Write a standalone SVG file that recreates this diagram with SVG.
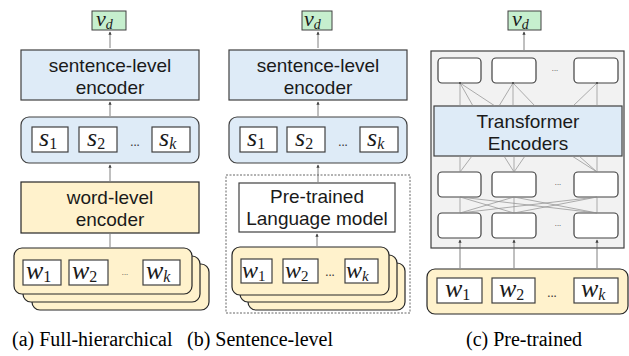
<svg xmlns="http://www.w3.org/2000/svg" width="629" height="356" viewBox="0 0 629 356">
<style>
.enc{fill:#deebf7;stroke:#404040;stroke-width:1.2}
.yel{fill:#fff2cc;stroke:#262626;stroke-width:1.2}
.wht{fill:#fff;stroke:#404040;stroke-width:1.2}
.grn{fill:#c6efce;stroke:#404040;stroke-width:1}
.lbl{font-family:'Liberation Sans',Arial,sans-serif;font-size:19px;fill:#1a1a1a;text-anchor:middle}
.math{font-family:'Liberation Serif','DejaVu Serif','Times New Roman',serif;font-style:italic;font-size:26px;fill:#1a1a1a}
.sub{font-size:16px;font-style:normal}
.subi{font-size:16px}
.dots{font-family:'Open Sans',sans-serif;font-size:12px;fill:#333;text-anchor:middle}
.sdots{font-family:'Open Sans',sans-serif;font-size:8px;fill:#555;text-anchor:middle}
.cap{font-family:'Liberation Serif','DejaVu Serif','Times New Roman',serif;font-size:20px;fill:#000}
.con{stroke:#606060;stroke-width:0.8;fill:none}
.arr{stroke:#606060;stroke-width:0.8;fill:none;marker-end:url(#ah)}
.thin{stroke:#8c8c8c;stroke-width:0.7;fill:none}
</style>
<defs>
<marker id="ah" viewBox="0 0 6 6" refX="5" refY="3" markerWidth="4" markerHeight="4" orient="auto">
<path d="M0,0 L6,3 L0,6 z" fill="#404040"/>
</marker>
</defs>

<!-- Column (a) -->
<g id="a_vd"><rect class="grn" x="92" y="11" width="34" height="19"/><text class="math" x="96" y="26" style="font-size:22px">v<tspan class="subi" dy="3" style="font-size:14px">d</tspan></text></g>
<g id="a_sent_enc"><rect class="enc" x="21" y="50" width="178" height="50"/><text class="lbl" x="110" y="71.5">sentence-level</text><text class="lbl" x="110" y="93.5">encoder</text></g>
<g id="a_sgroup"><rect class="enc" x="21" y="117" width="178" height="46" rx="8"/>
<rect class="wht" x="32" y="127" width="36" height="25"/><text class="math" x="39" y="146">s<tspan class="sub" dy="3">1</tspan></text>
<rect class="wht" x="79" y="127" width="38" height="25"/><text class="math" x="87" y="146">s<tspan class="sub" dy="3">2</tspan></text>
<text class="dots" x="135" y="146">...</text>
<rect class="wht" x="152" y="127" width="38" height="25"/><text class="math" x="159" y="146">s<tspan class="subi" dy="3">k</tspan></text></g>
<g id="a_word_enc"><rect class="yel" x="21" y="182" width="178" height="51"/><text class="lbl" x="110" y="203.5">word-level</text><text class="lbl" x="110" y="225.5">encoder</text></g>
<g id="a_wstack">
<rect class="yel" x="32" y="264" width="177" height="46" rx="8"/>
<rect class="yel" x="23" y="256" width="177" height="46" rx="8"/>
<rect class="yel" x="14" y="248" width="178" height="46" rx="8"/>
<rect class="wht" x="23" y="260" width="38" height="25"/><text class="math" x="26" y="279">w<tspan class="sub" dy="3">1</tspan></text>
<rect class="wht" x="69" y="260" width="39" height="25"/><text class="math" x="72" y="279">w<tspan class="sub" dy="3">2</tspan></text>
<text class="sdots" x="125" y="275">...</text>
<rect class="wht" x="143" y="260" width="37" height="25"/><text class="math" x="146" y="279">w<tspan class="subi" dy="3">k</tspan></text></g>

<!-- Column (b) -->
<g id="b_vd"><rect class="grn" x="302" y="11" width="30" height="19"/><text class="math" x="304" y="26" style="font-size:22px">v<tspan class="subi" dy="3" style="font-size:14px">d</tspan></text></g>
<g id="b_sent_enc"><rect class="enc" x="229" y="50" width="178" height="50"/><text class="lbl" x="318" y="71.5">sentence-level</text><text class="lbl" x="318" y="93.5">encoder</text></g>
<g id="b_sgroup"><rect class="enc" x="229" y="117" width="178" height="46" rx="8"/>
<rect class="wht" x="240" y="127" width="37" height="25"/><text class="math" x="247" y="146">s<tspan class="sub" dy="3">1</tspan></text>
<rect class="wht" x="287" y="127" width="38" height="25"/><text class="math" x="295" y="146">s<tspan class="sub" dy="3">2</tspan></text>
<text class="dots" x="343" y="146">...</text>
<rect class="wht" x="360" y="127" width="38" height="25"/><text class="math" x="367" y="146">s<tspan class="subi" dy="3">k</tspan></text></g>
<g id="b_dashed"><rect x="226" y="175" width="184" height="138" fill="none" stroke="#404040" stroke-width="0.8" stroke-dasharray="2,1.5"/></g>
<g id="b_plm"><rect class="wht" x="239" y="183" width="156" height="49"/><text class="lbl" x="317" y="203">Pre-trained</text><text class="lbl" x="317" y="225">Language model</text></g>
<g id="b_wstack">
<rect class="yel" x="248" y="263" width="157" height="47" rx="8"/>
<rect class="yel" x="240" y="255" width="157" height="47" rx="8"/>
<rect class="yel" x="232" y="247" width="157" height="48" rx="8"/>
<rect class="wht" x="241" y="259" width="31" height="24"/><text class="math" x="242" y="278" style="font-size:24px">w<tspan class="sub" dy="3" style="font-size:15px">1</tspan></text>
<rect class="wht" x="283" y="259" width="35" height="24"/><text class="math" x="285" y="278" style="font-size:24px">w<tspan class="sub" dy="3" style="font-size:15px">2</tspan></text>
<text class="dots" x="330" y="276">...</text>
<rect class="wht" x="345" y="259" width="33" height="24"/><text class="math" x="346" y="278" style="font-size:24px">w<tspan class="subi" dy="3" style="font-size:15px">k</tspan></text></g>

<!-- Column (c) -->
<g id="c_vd"><rect class="grn" x="508" y="11" width="33" height="19"/><text class="math" x="512" y="26" style="font-size:22px">v<tspan class="subi" dy="3" style="font-size:14px">d</tspan></text></g>
<g id="c_frame"><rect x="431" y="51" width="193" height="197" fill="#f2f2f2" stroke="#404040" stroke-width="1.2"/></g>
<g id="c_top_row">
<rect class="wht" x="438" y="58" width="43" height="25" rx="4"/>
<rect class="wht" x="492" y="58" width="44" height="25" rx="4"/>
<text class="sdots" x="555" y="71">...</text>
<rect class="wht" x="574" y="58" width="44" height="25" rx="4"/></g>
<g id="c_transformer"><rect class="enc" x="434" y="106" width="188" height="50"/><text class="lbl" x="528" y="127.5">Transformer</text><text class="lbl" x="528" y="149.5">Encoders</text></g>
<g id="c_mid_row">
<rect class="wht" x="438" y="172" width="43" height="25" rx="4"/>
<rect class="wht" x="492" y="172" width="44" height="25" rx="4"/>
<text class="sdots" x="558" y="185">...</text>
<rect class="wht" x="574" y="172" width="44" height="25" rx="4"/></g>
<g id="c_bot_row">
<rect class="wht" x="438" y="213" width="43" height="25" rx="4"/>
<rect class="wht" x="492" y="213" width="44" height="25" rx="4"/>
<text class="sdots" x="558" y="226">...</text>
<rect class="wht" x="574" y="213" width="44" height="25" rx="4"/></g>
<g id="c_wgroup"><rect class="yel" x="427" y="269" width="201" height="45" rx="8"/>
<rect class="wht" x="437" y="278" width="45" height="25"/><text class="math" x="445" y="297">w<tspan class="sub" dy="3">1</tspan></text>
<rect class="wht" x="492" y="278" width="43" height="25"/><text class="math" x="499" y="297">w<tspan class="sub" dy="3">2</tspan></text>
<text class="dots" x="552" y="297">...</text>
<rect class="wht" x="574" y="278" width="44" height="25"/><text class="math" x="581" y="297">w<tspan class="subi" dy="3">k</tspan></text></g>

<!-- Connectors -->
<g id="connectors">
<line class="arr" x1="110" y1="48" x2="110" y2="32"/>
<line class="arr" x1="110" y1="116" x2="110" y2="102"/>
<line class="arr" x1="110" y1="181" x2="110" y2="165"/>
<line class="con" x1="110" y1="247" x2="110" y2="234"/>

<line class="arr" x1="318" y1="48" x2="318" y2="32"/>
<line class="arr" x1="318" y1="116" x2="318" y2="102"/>
<line class="arr" x1="318" y1="182" x2="318" y2="165"/>
<line class="arr" x1="317" y1="246" x2="317" y2="234"/>

<line class="arr" x1="524" y1="50" x2="524" y2="32"/>
<line class="thin" x1="460" y1="83" x2="460" y2="106"/>
<line class="thin" x1="460" y1="83" x2="473" y2="106"/>
<line class="thin" x1="460" y1="83" x2="495" y2="106"/>
<line class="thin" x1="513" y1="83" x2="513" y2="106"/>
<line class="thin" x1="513" y1="83" x2="499" y2="106"/>
<line class="thin" x1="513" y1="83" x2="535" y2="106"/>
<line class="thin" x1="597" y1="83" x2="597" y2="106"/>
<line class="thin" x1="597" y1="83" x2="573" y2="106"/>
<circle cx="460" cy="83" r="1" fill="#404040"/><circle cx="513" cy="83" r="1" fill="#404040"/><circle cx="597" cy="83" r="1" fill="#404040"/>

<line class="thin" x1="460" y1="156" x2="460" y2="172"/>
<line class="thin" x1="472" y1="156" x2="460" y2="172"/>
<line class="thin" x1="504" y1="156" x2="514" y2="172"/>
<line class="thin" x1="514" y1="156" x2="514" y2="172"/>
<line class="thin" x1="525" y1="156" x2="514" y2="172"/>
<line class="thin" x1="572" y1="156" x2="597" y2="172"/>
<line class="thin" x1="579" y1="156" x2="597" y2="172"/>
<line class="thin" x1="597" y1="156" x2="597" y2="172"/>

<line class="thin" x1="460" y1="197" x2="460" y2="213"/>
<line class="thin" x1="514" y1="197" x2="514" y2="213"/>
<line class="thin" x1="597" y1="197" x2="597" y2="213"/>
<line class="thin" x1="460" y1="197" x2="597" y2="213"/>
<line class="thin" x1="460" y1="197" x2="514" y2="213"/>
<line class="thin" x1="514" y1="197" x2="460" y2="213"/>
<line class="thin" x1="514" y1="197" x2="597" y2="213"/>
<line class="thin" x1="597" y1="197" x2="460" y2="213"/>
<line class="thin" x1="597" y1="197" x2="514" y2="213"/>

<line class="arr" x1="460" y1="268" x2="460" y2="240"/>
<line class="arr" x1="514" y1="268" x2="514" y2="240"/>
<line class="arr" x1="597" y1="268" x2="597" y2="240"/>
</g>

<!-- Captions -->
<text class="cap" x="12" y="346">(a) Full-hierarchical</text>
<text class="cap" x="187" y="346">(b) Sentence-level</text>
<text class="cap" x="466" y="346">(c) Pre-trained</text>
</svg>
